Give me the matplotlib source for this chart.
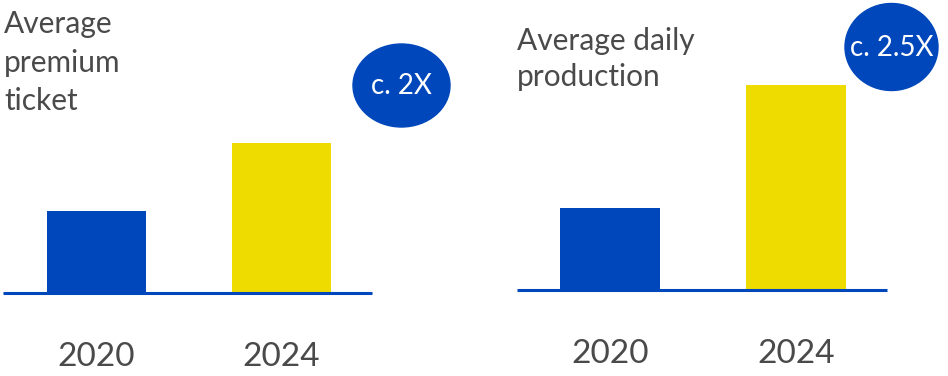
import matplotlib
matplotlib.use("Agg")
import matplotlib.pyplot as plt
from matplotlib.patches import Ellipse

plt.rcParams['font.family'] = ['Lato', 'DejaVu Sans']

years = ["2020", "2024"]
premium_ticket = [82, 150]
daily_production = [82, 205]
titles = ["Average\npremium\nticket", "Average daily\nproduction"]
badges = ["c. 2X", "c. 2.5X"]
bar_colors = ["#0047bb", "#eedc00"]
text_gray = "#4a4a4a"

W, H = 948, 376
fig = plt.figure(figsize=(W / 100, H / 100), dpi=100)

def add_panel(x0, x1, base_y, values, width, xlim, pad):
    ax = fig.add_axes([x0 / W, 1 - base_y / H, (x1 - x0) / W, base_y / H])
    ax.bar(range(len(values)), values, width=width, color=bar_colors, zorder=2)
    ax.set_xlim(*xlim)
    ax.set_ylim(0, base_y)
    for s in ["top", "right", "left"]:
        ax.spines[s].set_visible(False)
    ax.spines["bottom"].set_color("#0047bb")
    ax.spines["bottom"].set_linewidth(2.2)
    ax.spines["bottom"].set_capstyle("butt")
    ax.spines["bottom"].set_zorder(3)
    ax.set_yticks([])
    ax.set_xticks(range(len(values)))
    ax.set_xticklabels(years, fontsize=24, color=text_gray)
    ax.tick_params(axis="x", length=0, pad=pad)
    ax.patch.set_alpha(0)
    return ax

add_panel(3, 372, 293, premium_ticket, 0.535, (-0.505, 1.489), 35)
add_panel(517, 887, 290, daily_production, 0.538, (-0.5, 1.489), 35)

ov = fig.add_axes([0, 0, 1, 1])
ov.set_xlim(0, W)
ov.set_ylim(H, 0)
ov.axis("off")
ov.patch.set_alpha(0)

ov.text(4, 10, titles[0], fontsize=21.5, color=text_gray, ha="left", va="top",
        linespacing=1.46)
ov.text(517, 27, titles[1], fontsize=21.5, color=text_gray, ha="left", va="top",
        linespacing=1.33)

ov.add_patch(Ellipse((401.5, 85.5), 97, 83, color="#0047bb", zorder=5))
ov.text(401.5, 86, badges[0], fontsize=20, color="white", ha="center", va="center",
        zorder=6)
ov.add_patch(Ellipse((891.5, 47), 93, 87, color="#0047bb", zorder=5))
ov.text(892, 48, badges[1], fontsize=20, color="white", ha="center", va="center",
        zorder=6)

fig.savefig("out.png", dpi=100)
